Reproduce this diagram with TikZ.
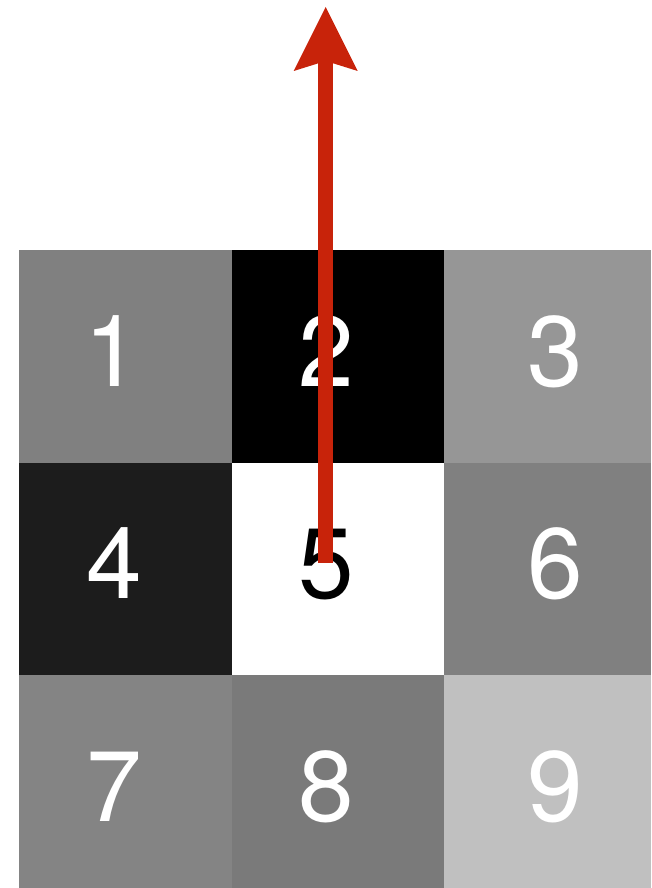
\documentclass[tikz,border=0pt]{standalone}
\usepackage{fontspec}
\setmainfont{TeX Gyre Heros}
\usetikzlibrary{arrows.meta}
\definecolor{arrowred}{HTML}{C8230A}
\definecolor{g1}{HTML}{808080}
\definecolor{g2}{HTML}{000000}
\definecolor{g3}{HTML}{969696}
\definecolor{g4}{HTML}{1C1C1C}
\definecolor{g5}{HTML}{FFFFFF}
\definecolor{g6}{HTML}{808080}
\definecolor{g7}{HTML}{848484}
\definecolor{g8}{HTML}{7A7A7A}
\definecolor{g9}{HTML}{C0C0C0}
\tikzset{
  cell/.style={rectangle, draw=none, inner sep=0pt, outer sep=0pt, anchor=north west},
  digit/.style={inner sep=0pt, anchor=base, text=white, font=\fontsize{100}{100}\selectfont},
  bigarrow/.style={draw=arrowred, line width=15.5pt,
    -{Stealth[length=64pt, width=64pt, inset=10pt, line width=0pt]}}
}
\begin{document}
\begin{tikzpicture}[x=1pt, y=-1pt]
\useasboundingbox (0,0) rectangle (651,888);
% cells
\node[cell, fill=g1, minimum width=213pt, minimum height=212.5pt] (c1) at (19,250) {};
\node[cell, fill=g2, minimum width=212pt, minimum height=212.5pt] (c2) at (232,250) {};
\node[cell, fill=g3, minimum width=207pt, minimum height=212.5pt] (c3) at (444,250) {};
\node[cell, fill=g4, minimum width=213pt, minimum height=212.5pt] (c4) at (19,462.5) {};
\node[cell, fill=g5, minimum width=212pt, minimum height=212.5pt] (c5) at (232,462.5) {};
\node[cell, fill=g6, minimum width=207pt, minimum height=212.5pt] (c6) at (444,462.5) {};
\node[cell, fill=g7, minimum width=213pt, minimum height=213pt] (c7) at (19,675) {};
\node[cell, fill=g8, minimum width=212pt, minimum height=213pt] (c8) at (232,675) {};
\node[cell, fill=g9, minimum width=207pt, minimum height=213pt] (c9) at (444,675) {};
% digits
\node[digit] (d1) at (112,386.5) {1};
\node[digit] (d2) at (325.8,386.5) {2};
\node[digit] (d3) at (555,386.5) {3};
\node[digit] (d4) at (114.2,598.5) {4};
\node[digit, text=black] (d5) at (325.8,598.5) {5};
\node[digit] (d6) at (555,598.5) {6};
\node[digit] (d7) at (114.2,821) {7};
\node[digit] (d8) at (325.8,821) {8};
\node[digit] (d9) at (555,821) {9};
% arrow
\coordinate (start) at (325.7,562.7);
\coordinate (tip) at (325.7,7);
\draw[bigarrow] (start) -- (tip);
\end{tikzpicture}
\end{document}
